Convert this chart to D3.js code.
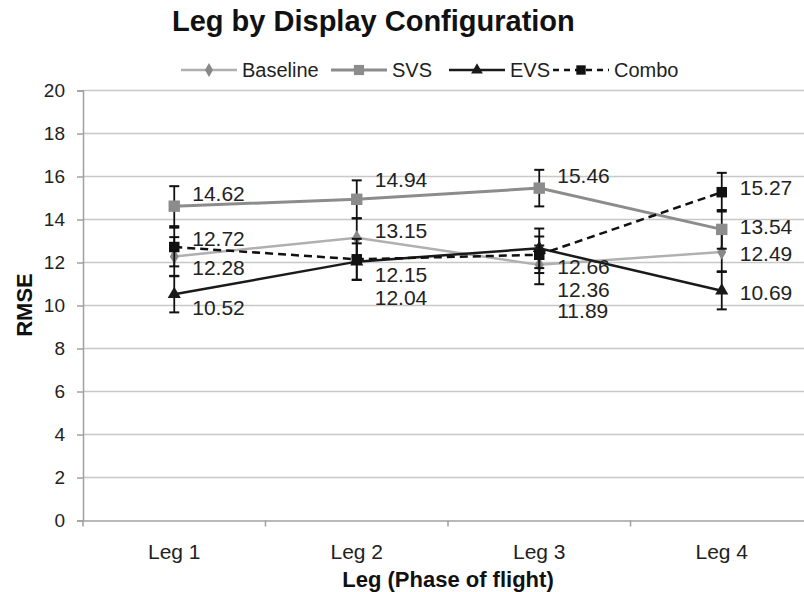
<!DOCTYPE html>
<html>
<head>
<meta charset="utf-8">
<script src="https://cdn.jsdelivr.net/npm/d3@7"></script>
<style>
  body { margin: 0; background: #fff; }
  svg { display: block; font-family: "Liberation Sans", Arial, sans-serif; }
</style>
</head>
<body>
<svg width="804" height="592"></svg>
<script>
// data
const legs = ['Leg 1', 'Leg 2', 'Leg 3', 'Leg 4'];
const baseline = [12.28, 13.15, 11.89, 12.49];
const svs = [14.62, 14.94, 15.46, 13.54];
const evs = [10.52, 12.04, 12.66, 10.69];
const combo = [12.72, 12.15, 12.36, 15.27];
// error bar half widths (estimated)
const baselineErr = [0.9, 0.9, 0.9, 0.9];
const svsErr = [0.93, 0.88, 0.85, 0.9];
const evsErr = [0.84, 0.85, 0.92, 0.87];
const comboErr = [0.9, 0.95, 0.85, 0.9];
const yTicks = [0, 2, 4, 6, 8, 10, 12, 14, 16, 18, 20];

// label nudges (px) so the labels do not sit on top of each other
const baselineDy = [11, -7, 46, 2];
const svsDy = [-13, -20, -12, -3];
const evsDy = [13, 36, 18, 2];
const comboDy = [-8, 15, 35, -5];

const series = [
  { name: 'Baseline', values: baseline, err: baselineErr, dy: baselineDy, line: '#b0b0b0', mark: '#888', width: 2.5, dash: null, shape: d3.symbolDiamond, size: 70 },
  { name: 'SVS', values: svs, err: svsErr, dy: svsDy, line: '#8c8c8c', mark: '#8c8c8c', width: 3, dash: null, shape: d3.symbolSquare, size: 130 },
  { name: 'EVS', values: evs, err: evsErr, dy: evsDy, line: '#1a1a1a', mark: '#1a1a1a', width: 2.5, dash: null, shape: d3.symbolTriangle, size: 75 },
  { name: 'Combo', values: combo, err: comboErr, dy: comboDy, line: '#111', mark: '#111', width: 2.5, dash: '8,5', shape: d3.symbolSquare, size: 110 }
];

const svg = d3.select('svg');

const x = d3.scaleBand().domain(legs).range([83, 813]);
const y = d3.scaleLinear().domain([0, 20]).range([520.5, 90.5]);
const cx = d => x(d) + x.bandwidth() / 2;

// gridlines
svg.append('g')
  .selectAll('line')
  .data(yTicks.slice(1))
  .enter().append('line')
  .attr('x1', 83).attr('x2', 813)
  .attr('y1', d => y(d)).attr('y2', d => y(d))
  .attr('stroke', '#c8c8c8').attr('stroke-width', 1.5);

// y axis
const yAxis = svg.append('g')
  .attr('transform', 'translate(83,0)')
  .call(d3.axisLeft(y).tickValues(yTicks).tickSize(6).tickPadding(12));
yAxis.select('.domain').attr('stroke', '#a0a0a0').attr('stroke-width', 1.5);
yAxis.selectAll('.tick line').attr('stroke', '#a0a0a0').attr('stroke-width', 1.5);
yAxis.selectAll('text').attr('font-size', 19).attr('fill', '#222');

// x axis
const xAxis = svg.append('g')
  .attr('transform', 'translate(0,520.5)')
  .call(d3.axisBottom(x).tickSize(0).tickPadding(24));
xAxis.select('.domain').attr('stroke', '#a0a0a0').attr('stroke-width', 1.5);
xAxis.selectAll('text').attr('font-size', 21).attr('fill', '#222');
xAxis.selectAll('.tick-mark')
  .data(d3.range(legs.length + 1))
  .enter().append('line')
  .attr('x1', i => 83 + i * x.step()).attr('x2', i => 83 + i * x.step())
  .attr('y1', 0).attr('y2', 6)
  .attr('stroke', '#a0a0a0').attr('stroke-width', 1.5);

// series
const line = d3.line().x((d, i) => cx(legs[i])).y(d => y(d));

series.forEach(s => {
  const g = svg.append('g');
  // error bars
  s.values.forEach((v, i) => {
    const px = cx(legs[i]);
    const e = s.err[i];
    g.append('line').attr('x1', px).attr('x2', px)
      .attr('y1', y(v + e)).attr('y2', y(v - e))
      .attr('stroke', '#111').attr('stroke-width', 1.8);
    [v + e, v - e].forEach(t => {
      g.append('line').attr('x1', px - 5).attr('x2', px + 5)
        .attr('y1', y(t)).attr('y2', y(t))
        .attr('stroke', '#111').attr('stroke-width', 2);
    });
  });
  g.append('path')
    .attr('d', line(s.values))
    .attr('fill', 'none')
    .attr('stroke', s.line)
    .attr('stroke-width', s.width)
    .attr('stroke-dasharray', s.dash);
  g.selectAll('.mark')
    .data(s.values)
    .enter().append('path')
    .attr('transform', (d, i) => `translate(${cx(legs[i])},${y(d)})`)
    .attr('d', d3.symbol().type(s.shape).size(s.size))
    .attr('fill', s.mark);
});

// data labels
series.forEach(s => {
  svg.append('g').selectAll('text')
    .data(s.values)
    .enter().append('text')
    .attr('x', (d, i) => cx(legs[i]) + 18)
    .attr('y', (d, i) => y(d) + s.dy[i])
    .attr('dy', '0.35em')
    .attr('font-size', 21)
    .attr('fill', '#222')
    .text(d => d.toFixed(2));
});

// title
svg.append('text')
  .attr('x', 172).attr('y', 31)
  .attr('font-size', 29).attr('font-weight', 'bold').attr('fill', '#111')
  .text('Leg by Display Configuration');

// legend
const legendX = [181, 331, 449, 553];
series.forEach((s, i) => {
  const lg = svg.append('g').attr('transform', `translate(${legendX[i]},70)`);
  lg.append('line').attr('x1', 0).attr('x2', 56).attr('y1', 0).attr('y2', 0)
    .attr('stroke', s.line).attr('stroke-width', s.width)
    .attr('stroke-dasharray', s.dash ? '6,5' : null);
  lg.append('path')
    .attr('transform', 'translate(28,0)')
    .attr('d', d3.symbol().type(s.shape).size(s.size * 0.8))
    .attr('fill', s.mark);
  lg.append('text').attr('x', 61).attr('y', 0).attr('dy', '0.35em')
    .attr('font-size', 20).attr('fill', '#222')
    .text(s.name);
});

// axis titles
svg.append('text')
  .attr('transform', 'translate(32,305) rotate(-90)')
  .attr('text-anchor', 'middle')
  .attr('font-size', 22).attr('font-weight', 'bold').attr('fill', '#111')
  .text('RMSE');

svg.append('text')
  .attr('x', 448).attr('y', 587)
  .attr('text-anchor', 'middle')
  .attr('font-size', 22).attr('font-weight', 'bold').attr('fill', '#111')
  .text('Leg (Phase of flight)');
</script>
</body>
</html>
